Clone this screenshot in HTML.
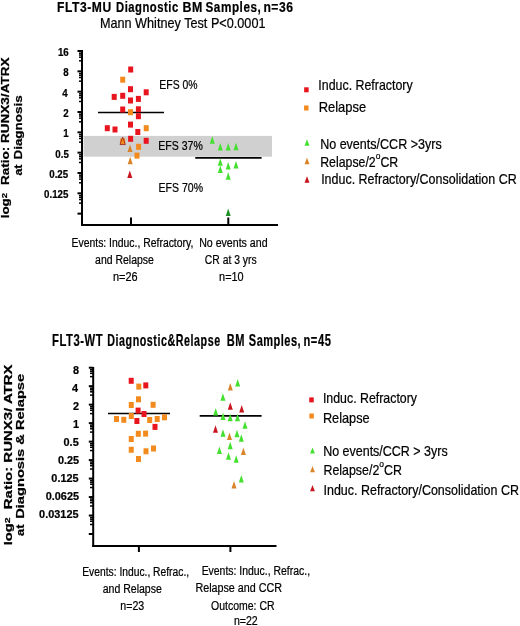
<!DOCTYPE html>
<html><head><meta charset="utf-8"><style>
html,body{margin:0;padding:0;background:#fff;}
svg{display:block;filter:blur(0.3px);}
text{font-family:"Liberation Sans",sans-serif;fill:#000;stroke:#000;stroke-width:0.22px;}

</style></head><body>
<svg width="520" height="626" viewBox="0 0 520 626">
<rect width="520" height="626" fill="#fff"/>
<rect x="83.50" y="135.90" width="188.50" height="20.80" fill="#d0d0d0"/>
<line x1="82.00" y1="50.00" x2="82.00" y2="226.00" stroke="#000" stroke-width="2"/>
<line x1="81.00" y1="225.00" x2="278.00" y2="225.00" stroke="#000" stroke-width="2"/>
<line x1="77.50" y1="51.00" x2="82.00" y2="51.00" stroke="#000" stroke-width="2"/>
<line x1="79.00" y1="53.20" x2="82.00" y2="53.20" stroke="#000" stroke-width="1.5"/>
<line x1="79.00" y1="55.01" x2="82.00" y2="55.01" stroke="#000" stroke-width="1.5"/>
<line x1="79.00" y1="57.20" x2="82.00" y2="57.20" stroke="#000" stroke-width="1.5"/>
<line x1="79.00" y1="60.82" x2="82.00" y2="60.82" stroke="#000" stroke-width="1.5"/>
<line x1="77.50" y1="71.33" x2="82.00" y2="71.33" stroke="#000" stroke-width="2"/>
<line x1="79.00" y1="73.53" x2="82.00" y2="73.53" stroke="#000" stroke-width="1.5"/>
<line x1="79.00" y1="75.34" x2="82.00" y2="75.34" stroke="#000" stroke-width="1.5"/>
<line x1="79.00" y1="77.53" x2="82.00" y2="77.53" stroke="#000" stroke-width="1.5"/>
<line x1="79.00" y1="81.15" x2="82.00" y2="81.15" stroke="#000" stroke-width="1.5"/>
<line x1="77.50" y1="91.66" x2="82.00" y2="91.66" stroke="#000" stroke-width="2"/>
<line x1="79.00" y1="93.86" x2="82.00" y2="93.86" stroke="#000" stroke-width="1.5"/>
<line x1="79.00" y1="95.67" x2="82.00" y2="95.67" stroke="#000" stroke-width="1.5"/>
<line x1="79.00" y1="97.86" x2="82.00" y2="97.86" stroke="#000" stroke-width="1.5"/>
<line x1="79.00" y1="101.48" x2="82.00" y2="101.48" stroke="#000" stroke-width="1.5"/>
<line x1="77.50" y1="111.99" x2="82.00" y2="111.99" stroke="#000" stroke-width="2"/>
<line x1="79.00" y1="114.19" x2="82.00" y2="114.19" stroke="#000" stroke-width="1.5"/>
<line x1="79.00" y1="116.00" x2="82.00" y2="116.00" stroke="#000" stroke-width="1.5"/>
<line x1="79.00" y1="118.19" x2="82.00" y2="118.19" stroke="#000" stroke-width="1.5"/>
<line x1="79.00" y1="121.81" x2="82.00" y2="121.81" stroke="#000" stroke-width="1.5"/>
<line x1="77.50" y1="132.32" x2="82.00" y2="132.32" stroke="#000" stroke-width="2"/>
<line x1="79.00" y1="134.52" x2="82.00" y2="134.52" stroke="#000" stroke-width="1.5"/>
<line x1="79.00" y1="136.33" x2="82.00" y2="136.33" stroke="#000" stroke-width="1.5"/>
<line x1="79.00" y1="138.52" x2="82.00" y2="138.52" stroke="#000" stroke-width="1.5"/>
<line x1="79.00" y1="142.14" x2="82.00" y2="142.14" stroke="#000" stroke-width="1.5"/>
<line x1="77.50" y1="152.65" x2="82.00" y2="152.65" stroke="#000" stroke-width="2"/>
<line x1="79.00" y1="154.85" x2="82.00" y2="154.85" stroke="#000" stroke-width="1.5"/>
<line x1="79.00" y1="156.66" x2="82.00" y2="156.66" stroke="#000" stroke-width="1.5"/>
<line x1="79.00" y1="158.85" x2="82.00" y2="158.85" stroke="#000" stroke-width="1.5"/>
<line x1="79.00" y1="162.47" x2="82.00" y2="162.47" stroke="#000" stroke-width="1.5"/>
<line x1="77.50" y1="172.98" x2="82.00" y2="172.98" stroke="#000" stroke-width="2"/>
<line x1="79.00" y1="175.18" x2="82.00" y2="175.18" stroke="#000" stroke-width="1.5"/>
<line x1="79.00" y1="176.99" x2="82.00" y2="176.99" stroke="#000" stroke-width="1.5"/>
<line x1="79.00" y1="179.18" x2="82.00" y2="179.18" stroke="#000" stroke-width="1.5"/>
<line x1="79.00" y1="182.80" x2="82.00" y2="182.80" stroke="#000" stroke-width="1.5"/>
<line x1="77.50" y1="193.31" x2="82.00" y2="193.31" stroke="#000" stroke-width="2"/>
<line x1="79.00" y1="195.51" x2="82.00" y2="195.51" stroke="#000" stroke-width="1.5"/>
<line x1="79.00" y1="197.32" x2="82.00" y2="197.32" stroke="#000" stroke-width="1.5"/>
<line x1="79.00" y1="199.51" x2="82.00" y2="199.51" stroke="#000" stroke-width="1.5"/>
<line x1="79.00" y1="203.13" x2="82.00" y2="203.13" stroke="#000" stroke-width="1.5"/>
<line x1="77.50" y1="213.64" x2="82.00" y2="213.64" stroke="#000" stroke-width="2"/>
<line x1="131.00" y1="217.50" x2="131.00" y2="225.00" stroke="#000" stroke-width="2"/>
<line x1="228.30" y1="217.50" x2="228.30" y2="225.00" stroke="#000" stroke-width="2"/>
<line x1="98.00" y1="112.50" x2="164.00" y2="112.50" stroke="#000" stroke-width="1.7"/>
<line x1="195.30" y1="157.90" x2="261.60" y2="157.90" stroke="#000" stroke-width="1.7"/>
<rect x="128.20" y="66.50" width="5.00" height="6.00" fill="#e8141e"/>
<rect x="128.00" y="86.20" width="5.00" height="6.00" fill="#e8141e"/>
<rect x="143.70" y="89.30" width="5.00" height="6.00" fill="#e8141e"/>
<rect x="111.70" y="93.90" width="5.00" height="6.00" fill="#e8141e"/>
<rect x="120.20" y="92.80" width="5.00" height="6.00" fill="#e8141e"/>
<rect x="128.00" y="97.50" width="5.00" height="6.00" fill="#e8141e"/>
<rect x="135.90" y="95.90" width="5.00" height="6.00" fill="#e8141e"/>
<rect x="120.20" y="106.50" width="5.00" height="6.00" fill="#e8141e"/>
<rect x="135.90" y="106.30" width="5.00" height="6.00" fill="#e8141e"/>
<rect x="135.90" y="113.20" width="5.00" height="6.00" fill="#e8141e"/>
<rect x="128.00" y="121.60" width="5.00" height="6.00" fill="#e8141e"/>
<rect x="104.80" y="125.20" width="5.00" height="6.00" fill="#e8141e"/>
<rect x="112.50" y="126.50" width="5.00" height="6.00" fill="#e8141e"/>
<rect x="135.30" y="129.00" width="5.00" height="6.00" fill="#e8141e"/>
<rect x="128.10" y="135.80" width="5.00" height="6.00" fill="#e8141e"/>
<rect x="143.70" y="137.80" width="5.00" height="6.00" fill="#e8141e"/>
<rect x="120.20" y="76.70" width="5.00" height="6.00" fill="#f28a1e"/>
<rect x="128.00" y="109.20" width="5.00" height="6.00" fill="#f28a1e"/>
<rect x="143.70" y="125.20" width="5.00" height="6.00" fill="#f28a1e"/>
<rect x="120.20" y="138.40" width="5.00" height="6.00" fill="#f28a1e"/>
<rect x="136.10" y="143.80" width="5.00" height="6.00" fill="#f28a1e"/>
<rect x="134.50" y="152.60" width="5.00" height="6.00" fill="#f28a1e"/>
<polygon points="122.70,137.05 125.40,144.55 120.00,144.55" fill="none" stroke="#a01a10" stroke-width="0.8"/>
<polygon points="130.00,144.55 132.50,152.05 127.50,152.05" fill="#d9842a"/>
<polygon points="130.20,156.85 132.70,164.35 127.70,164.35" fill="#d9842a"/>
<polygon points="129.80,170.55 132.30,178.05 127.30,178.05" fill="#c8141e"/>
<polygon points="212.30,136.35 214.80,143.85 209.80,143.85" fill="#44e030"/>
<polygon points="220.30,143.05 222.80,150.55 217.80,150.55" fill="#44e030"/>
<polygon points="228.20,143.05 230.70,150.55 225.70,150.55" fill="#44e030"/>
<polygon points="236.00,142.75 238.50,150.25 233.50,150.25" fill="#44e030"/>
<polygon points="220.30,158.15 222.80,165.65 217.80,165.65" fill="#44e030"/>
<polygon points="228.20,162.05 230.70,169.55 225.70,169.55" fill="#44e030"/>
<polygon points="236.00,160.95 238.50,168.45 233.50,168.45" fill="#44e030"/>
<polygon points="220.30,165.55 222.80,173.05 217.80,173.05" fill="#44e030"/>
<polygon points="228.20,172.35 230.70,179.85 225.70,179.85" fill="#44e030"/>
<polygon points="228.20,208.45 230.70,215.95 225.70,215.95" fill="#1f8f2a"/>
<rect x="304.15" y="87.30" width="4.50" height="5.00" fill="#e8141e"/>
<rect x="304.05" y="105.50" width="4.50" height="5.00" fill="#f28a1e"/>
<polygon points="307.00,139.25 309.50,145.75 304.50,145.75" fill="#44e030"/>
<polygon points="307.00,157.85 309.50,164.35 304.50,164.35" fill="#d9842a"/>
<polygon points="307.00,176.35 309.50,182.85 304.50,182.85" fill="#c8141e"/>
<line x1="93.20" y1="367.00" x2="93.20" y2="547.00" stroke="#000" stroke-width="2"/>
<line x1="92.20" y1="546.00" x2="276.50" y2="546.00" stroke="#000" stroke-width="2"/>
<line x1="88.80" y1="367.70" x2="93.20" y2="367.70" stroke="#000" stroke-width="2"/>
<line x1="90.00" y1="369.70" x2="93.20" y2="369.70" stroke="#000" stroke-width="1.5"/>
<line x1="90.00" y1="371.34" x2="93.20" y2="371.34" stroke="#000" stroke-width="1.5"/>
<line x1="90.00" y1="373.34" x2="93.20" y2="373.34" stroke="#000" stroke-width="1.5"/>
<line x1="90.00" y1="376.63" x2="93.20" y2="376.63" stroke="#000" stroke-width="1.5"/>
<line x1="88.80" y1="386.18" x2="93.20" y2="386.18" stroke="#000" stroke-width="2"/>
<line x1="90.00" y1="388.18" x2="93.20" y2="388.18" stroke="#000" stroke-width="1.5"/>
<line x1="90.00" y1="389.82" x2="93.20" y2="389.82" stroke="#000" stroke-width="1.5"/>
<line x1="90.00" y1="391.82" x2="93.20" y2="391.82" stroke="#000" stroke-width="1.5"/>
<line x1="90.00" y1="395.11" x2="93.20" y2="395.11" stroke="#000" stroke-width="1.5"/>
<line x1="88.80" y1="404.66" x2="93.20" y2="404.66" stroke="#000" stroke-width="2"/>
<line x1="90.00" y1="406.66" x2="93.20" y2="406.66" stroke="#000" stroke-width="1.5"/>
<line x1="90.00" y1="408.30" x2="93.20" y2="408.30" stroke="#000" stroke-width="1.5"/>
<line x1="90.00" y1="410.30" x2="93.20" y2="410.30" stroke="#000" stroke-width="1.5"/>
<line x1="90.00" y1="413.59" x2="93.20" y2="413.59" stroke="#000" stroke-width="1.5"/>
<line x1="88.80" y1="423.14" x2="93.20" y2="423.14" stroke="#000" stroke-width="2"/>
<line x1="90.00" y1="425.14" x2="93.20" y2="425.14" stroke="#000" stroke-width="1.5"/>
<line x1="90.00" y1="426.78" x2="93.20" y2="426.78" stroke="#000" stroke-width="1.5"/>
<line x1="90.00" y1="428.78" x2="93.20" y2="428.78" stroke="#000" stroke-width="1.5"/>
<line x1="90.00" y1="432.07" x2="93.20" y2="432.07" stroke="#000" stroke-width="1.5"/>
<line x1="88.80" y1="441.62" x2="93.20" y2="441.62" stroke="#000" stroke-width="2"/>
<line x1="90.00" y1="443.62" x2="93.20" y2="443.62" stroke="#000" stroke-width="1.5"/>
<line x1="90.00" y1="445.26" x2="93.20" y2="445.26" stroke="#000" stroke-width="1.5"/>
<line x1="90.00" y1="447.26" x2="93.20" y2="447.26" stroke="#000" stroke-width="1.5"/>
<line x1="90.00" y1="450.55" x2="93.20" y2="450.55" stroke="#000" stroke-width="1.5"/>
<line x1="88.80" y1="460.10" x2="93.20" y2="460.10" stroke="#000" stroke-width="2"/>
<line x1="90.00" y1="462.10" x2="93.20" y2="462.10" stroke="#000" stroke-width="1.5"/>
<line x1="90.00" y1="463.74" x2="93.20" y2="463.74" stroke="#000" stroke-width="1.5"/>
<line x1="90.00" y1="465.74" x2="93.20" y2="465.74" stroke="#000" stroke-width="1.5"/>
<line x1="90.00" y1="469.03" x2="93.20" y2="469.03" stroke="#000" stroke-width="1.5"/>
<line x1="88.80" y1="478.58" x2="93.20" y2="478.58" stroke="#000" stroke-width="2"/>
<line x1="90.00" y1="480.58" x2="93.20" y2="480.58" stroke="#000" stroke-width="1.5"/>
<line x1="90.00" y1="482.22" x2="93.20" y2="482.22" stroke="#000" stroke-width="1.5"/>
<line x1="90.00" y1="484.22" x2="93.20" y2="484.22" stroke="#000" stroke-width="1.5"/>
<line x1="90.00" y1="487.51" x2="93.20" y2="487.51" stroke="#000" stroke-width="1.5"/>
<line x1="88.80" y1="497.06" x2="93.20" y2="497.06" stroke="#000" stroke-width="2"/>
<line x1="90.00" y1="499.06" x2="93.20" y2="499.06" stroke="#000" stroke-width="1.5"/>
<line x1="90.00" y1="500.70" x2="93.20" y2="500.70" stroke="#000" stroke-width="1.5"/>
<line x1="90.00" y1="502.70" x2="93.20" y2="502.70" stroke="#000" stroke-width="1.5"/>
<line x1="90.00" y1="505.99" x2="93.20" y2="505.99" stroke="#000" stroke-width="1.5"/>
<line x1="88.80" y1="515.54" x2="93.20" y2="515.54" stroke="#000" stroke-width="2"/>
<line x1="90.00" y1="517.54" x2="93.20" y2="517.54" stroke="#000" stroke-width="1.5"/>
<line x1="90.00" y1="519.18" x2="93.20" y2="519.18" stroke="#000" stroke-width="1.5"/>
<line x1="90.00" y1="521.18" x2="93.20" y2="521.18" stroke="#000" stroke-width="1.5"/>
<line x1="90.00" y1="524.47" x2="93.20" y2="524.47" stroke="#000" stroke-width="1.5"/>
<line x1="88.80" y1="534.02" x2="93.20" y2="534.02" stroke="#000" stroke-width="2"/>
<line x1="138.90" y1="546.00" x2="138.90" y2="552.00" stroke="#000" stroke-width="2"/>
<line x1="230.40" y1="546.00" x2="230.40" y2="552.00" stroke="#000" stroke-width="2"/>
<line x1="108.00" y1="413.50" x2="170.00" y2="413.50" stroke="#000" stroke-width="1.7"/>
<line x1="199.70" y1="415.80" x2="261.60" y2="415.80" stroke="#000" stroke-width="1.7"/>
<rect x="136.30" y="383.60" width="5.00" height="6.00" fill="#f28a1e"/>
<rect x="136.00" y="396.30" width="5.00" height="6.00" fill="#f28a1e"/>
<rect x="128.75" y="402.00" width="5.00" height="6.00" fill="#f28a1e"/>
<rect x="150.60" y="401.80" width="5.00" height="6.00" fill="#f28a1e"/>
<rect x="128.80" y="413.00" width="5.00" height="6.00" fill="#f28a1e"/>
<rect x="114.00" y="416.00" width="5.00" height="6.00" fill="#f28a1e"/>
<rect x="121.30" y="416.80" width="5.00" height="6.00" fill="#f28a1e"/>
<rect x="147.20" y="417.00" width="5.00" height="6.00" fill="#f28a1e"/>
<rect x="154.70" y="416.00" width="5.00" height="6.00" fill="#f28a1e"/>
<rect x="162.00" y="414.30" width="5.00" height="6.00" fill="#f28a1e"/>
<rect x="135.80" y="430.80" width="5.00" height="6.00" fill="#f28a1e"/>
<rect x="143.10" y="430.60" width="5.00" height="6.00" fill="#f28a1e"/>
<rect x="128.75" y="436.00" width="5.00" height="6.00" fill="#f28a1e"/>
<rect x="128.75" y="446.75" width="5.00" height="6.00" fill="#f28a1e"/>
<rect x="143.50" y="448.25" width="5.00" height="6.00" fill="#f28a1e"/>
<rect x="151.00" y="445.50" width="5.00" height="6.00" fill="#f28a1e"/>
<rect x="136.00" y="456.00" width="5.00" height="6.00" fill="#f28a1e"/>
<rect x="128.70" y="377.80" width="5.00" height="6.00" fill="#e8141e"/>
<rect x="143.30" y="382.40" width="5.00" height="6.00" fill="#e8141e"/>
<rect x="135.60" y="407.60" width="5.00" height="6.00" fill="#e8141e"/>
<rect x="141.50" y="411.00" width="5.00" height="6.00" fill="#e8141e"/>
<rect x="134.40" y="418.00" width="5.00" height="6.00" fill="#e8141e"/>
<rect x="152.50" y="423.90" width="5.00" height="6.00" fill="#e8141e"/>
<polygon points="237.70,379.05 240.20,386.55 235.20,386.55" fill="#44e030"/>
<polygon points="222.90,393.15 225.40,400.65 220.40,400.65" fill="#44e030"/>
<polygon points="215.70,408.05 218.20,415.55 213.20,415.55" fill="#44e030"/>
<polygon points="223.00,412.45 225.50,419.95 220.50,419.95" fill="#44e030"/>
<polygon points="230.20,413.75 232.70,421.25 227.70,421.25" fill="#44e030"/>
<polygon points="237.50,413.65 240.00,421.15 235.00,421.15" fill="#44e030"/>
<polygon points="245.00,421.35 247.50,428.85 242.50,428.85" fill="#44e030"/>
<polygon points="223.00,429.25 225.50,436.75 220.50,436.75" fill="#44e030"/>
<polygon points="237.00,429.65 239.50,437.15 234.50,437.15" fill="#44e030"/>
<polygon points="241.30,434.25 243.80,441.75 238.80,441.75" fill="#44e030"/>
<polygon points="230.20,441.75 232.70,449.25 227.70,449.25" fill="#44e030"/>
<polygon points="219.40,446.55 221.90,454.05 216.90,454.05" fill="#44e030"/>
<polygon points="228.50,452.25 231.00,459.75 226.00,459.75" fill="#44e030"/>
<polygon points="236.20,455.15 238.70,462.65 233.70,462.65" fill="#44e030"/>
<polygon points="241.30,474.95 243.80,482.45 238.80,482.45" fill="#44e030"/>
<polygon points="230.30,383.05 232.80,390.55 227.80,390.55" fill="#d9842a"/>
<polygon points="229.50,432.55 232.00,440.05 227.00,440.05" fill="#d9842a"/>
<polygon points="243.40,447.55 245.90,455.05 240.90,455.05" fill="#d9842a"/>
<polygon points="234.00,480.95 236.50,488.45 231.50,488.45" fill="#d9842a"/>
<polygon points="230.30,402.25 232.80,409.75 227.80,409.75" fill="#c8141e"/>
<polygon points="241.70,405.05 244.20,412.55 239.20,412.55" fill="#c8141e"/>
<polygon points="215.50,425.35 218.00,432.85 213.00,432.85" fill="#c8141e"/>
<rect x="309.25" y="397.40" width="4.50" height="5.00" fill="#e8141e"/>
<rect x="309.35" y="413.50" width="4.50" height="5.00" fill="#f28a1e"/>
<polygon points="312.50,447.40 314.90,453.60 310.10,453.60" fill="#44e030"/>
<polygon points="312.50,466.00 314.90,472.20 310.10,472.20" fill="#d9842a"/>
<polygon points="312.50,485.10 314.90,491.30 310.10,491.30" fill="#c8141e"/>
<text x="56.99" y="12.10" font-size="15.0" font-weight="bold" letter-spacing="0.7" class="t" textLength="54.77" lengthAdjust="spacingAndGlyphs">FLT3-MU</text>
<text x="116.05" y="12.10" font-size="15.0" font-weight="bold" letter-spacing="0.7" class="t" textLength="62.66" lengthAdjust="spacingAndGlyphs">Diagnostic</text>
<text x="182.57" y="12.10" font-size="15.0" font-weight="bold" letter-spacing="0.7" class="t" textLength="20.46" lengthAdjust="spacingAndGlyphs">BM</text>
<text x="205.50" y="12.10" font-size="15.0" font-weight="bold" letter-spacing="0.7" class="t" textLength="55.85" lengthAdjust="spacingAndGlyphs">Samples,</text>
<text x="263.39" y="12.10" font-size="15.0" font-weight="bold" letter-spacing="0.7" class="t" textLength="30.26" lengthAdjust="spacingAndGlyphs">n=36</text>
<text x="99.93" y="27.60" font-size="14.5" font-weight="normal" textLength="165.56" lengthAdjust="spacingAndGlyphs">Mann Whitney Test P&lt;0.0001</text>
<text x="159.33" y="88.90" font-size="12" font-weight="normal" textLength="38.18" lengthAdjust="spacingAndGlyphs">EFS 0%</text>
<text x="158.32" y="149.90" font-size="12" font-weight="normal" textLength="44.52" lengthAdjust="spacingAndGlyphs">EFS 37%</text>
<text x="158.62" y="192.00" font-size="12" font-weight="normal" textLength="44.42" lengthAdjust="spacingAndGlyphs">EFS 70%</text>
<text x="318.34" y="90.30" font-size="14.4" font-weight="normal" textLength="94.30" lengthAdjust="spacingAndGlyphs">Induc. Refractory</text>
<text x="318.70" y="111.80" font-size="14.4" font-weight="normal" textLength="47.43" lengthAdjust="spacingAndGlyphs">Relapse</text>
<text x="320.13" y="149.10" font-size="14.4" font-weight="normal" textLength="121.56" lengthAdjust="spacingAndGlyphs">No events/CCR &gt;3yrs</text>
<text x="320.14" y="167.00" font-size="14.4" font-weight="normal" textLength="78.11" lengthAdjust="spacingAndGlyphs">Relapse/2<tspan font-size="9.8" dy="-8.1">o</tspan><tspan dy="8.1">CR</tspan></text>
<text x="321.13" y="184.10" font-size="14.4" font-weight="normal" textLength="195.55" lengthAdjust="spacingAndGlyphs">Induc. Refractory/Consolidation CR</text>
<text x="71.55" y="246.90" font-size="12.3" font-weight="normal" textLength="121.78" lengthAdjust="spacingAndGlyphs">Events: Induc., Refractory,</text>
<text x="95.10" y="264.40" font-size="12.3" font-weight="normal" textLength="58.75" lengthAdjust="spacingAndGlyphs">and Relapse</text>
<text x="113.01" y="281.00" font-size="12.3" font-weight="normal" textLength="24.61" lengthAdjust="spacingAndGlyphs">n=26</text>
<text x="199.14" y="246.90" font-size="12.3" font-weight="normal" textLength="68.43" lengthAdjust="spacingAndGlyphs">No events and</text>
<text x="204.80" y="264.40" font-size="12.3" font-weight="normal" textLength="51.82" lengthAdjust="spacingAndGlyphs">CR at 3 yrs</text>
<text x="219.12" y="281.00" font-size="12.3" font-weight="normal" textLength="24.51" lengthAdjust="spacingAndGlyphs">n=10</text>
<text x="57.96" y="56.10" font-size="11.2" font-weight="bold" textLength="10.83" lengthAdjust="spacingAndGlyphs">16</text>
<text x="63.18" y="76.43" font-size="11.2" font-weight="bold" textLength="5.42" lengthAdjust="spacingAndGlyphs">8</text>
<text x="62.31" y="96.76" font-size="11.2" font-weight="bold" textLength="5.42" lengthAdjust="spacingAndGlyphs">4</text>
<text x="63.18" y="117.09" font-size="11.2" font-weight="bold" textLength="5.42" lengthAdjust="spacingAndGlyphs">2</text>
<text x="63.18" y="137.42" font-size="11.2" font-weight="bold" textLength="5.42" lengthAdjust="spacingAndGlyphs">1</text>
<text x="55.35" y="157.75" font-size="11.2" font-weight="bold" textLength="13.54" lengthAdjust="spacingAndGlyphs">0.5</text>
<text x="49.26" y="178.08" font-size="11.2" font-weight="bold" textLength="18.95" lengthAdjust="spacingAndGlyphs">0.25</text>
<text x="44.04" y="198.41" font-size="11.2" font-weight="bold" textLength="24.36" lengthAdjust="spacingAndGlyphs">0.125</text>
<text x="72.96" y="374.00" font-size="11.6" font-weight="bold" textLength="6.07" lengthAdjust="spacingAndGlyphs">8</text>
<text x="72.02" y="391.99" font-size="11.6" font-weight="bold" textLength="6.07" lengthAdjust="spacingAndGlyphs">4</text>
<text x="72.96" y="409.98" font-size="11.6" font-weight="bold" textLength="6.07" lengthAdjust="spacingAndGlyphs">2</text>
<text x="72.96" y="427.97" font-size="11.6" font-weight="bold" textLength="6.07" lengthAdjust="spacingAndGlyphs">1</text>
<text x="63.56" y="445.96" font-size="11.6" font-weight="bold" textLength="15.16" lengthAdjust="spacingAndGlyphs">0.5</text>
<text x="57.92" y="463.95" font-size="11.6" font-weight="bold" textLength="21.22" lengthAdjust="spacingAndGlyphs">0.25</text>
<text x="51.34" y="481.94" font-size="11.6" font-weight="bold" textLength="27.27" lengthAdjust="spacingAndGlyphs">0.125</text>
<text x="45.70" y="499.93" font-size="11.6" font-weight="bold" textLength="33.34" lengthAdjust="spacingAndGlyphs">0.0625</text>
<text x="39.12" y="517.92" font-size="11.6" font-weight="bold" textLength="39.41" lengthAdjust="spacingAndGlyphs">0.03125</text>
<text x="51.99" y="346.20" font-size="15.9" font-weight="bold" letter-spacing="0.8" class="t" textLength="51.27" lengthAdjust="spacingAndGlyphs">FLT3-WT</text>
<text x="107.22" y="346.20" font-size="15.9" font-weight="bold" letter-spacing="0.8" class="t" textLength="113.49" lengthAdjust="spacingAndGlyphs">Diagnostic&amp;Relapse</text>
<text x="226.80" y="346.20" font-size="15.9" font-weight="bold" letter-spacing="0.7" class="t" textLength="18.18" lengthAdjust="spacingAndGlyphs">BM</text>
<text x="248.80" y="346.20" font-size="15.9" font-weight="bold" letter-spacing="0.7" class="t" textLength="52.37" lengthAdjust="spacingAndGlyphs">Samples,</text>
<text x="303.50" y="346.20" font-size="15.9" font-weight="bold" letter-spacing="0.8" class="t" textLength="27.91" lengthAdjust="spacingAndGlyphs">n=45</text>
<text x="322.95" y="403.40" font-size="14.5" font-weight="normal" textLength="94.06" lengthAdjust="spacingAndGlyphs">Induc. Refractory</text>
<text x="322.92" y="423.10" font-size="14.5" font-weight="normal" textLength="46.76" lengthAdjust="spacingAndGlyphs">Relapse</text>
<text x="323.14" y="455.70" font-size="14.5" font-weight="normal" textLength="124.57" lengthAdjust="spacingAndGlyphs">No events/CCR &gt; 3yrs</text>
<text x="323.55" y="474.90" font-size="14.5" font-weight="normal" textLength="78.29" lengthAdjust="spacingAndGlyphs">Relapse/2<tspan font-size="9.9" dy="-8.1">o</tspan><tspan dy="8.1">CR</tspan></text>
<text x="323.54" y="494.70" font-size="14.5" font-weight="normal" textLength="195.40" lengthAdjust="spacingAndGlyphs">Induc. Refractory/Consolidation CR</text>
<text x="82.24" y="575.60" font-size="12" font-weight="normal" textLength="106.89" lengthAdjust="spacingAndGlyphs">Events: Induc., Refrac.,</text>
<text x="102.70" y="593.40" font-size="12" font-weight="normal" textLength="59.14" lengthAdjust="spacingAndGlyphs">and Relapse</text>
<text x="120.32" y="609.50" font-size="12" font-weight="normal" textLength="23.91" lengthAdjust="spacingAndGlyphs">n=23</text>
<text x="201.63" y="574.70" font-size="12" font-weight="normal" textLength="108.41" lengthAdjust="spacingAndGlyphs">Events: Induc., Refrac.,</text>
<text x="195.40" y="592.20" font-size="12" font-weight="normal" textLength="86.64" lengthAdjust="spacingAndGlyphs">Relapse and CCR</text>
<text x="211.10" y="609.70" font-size="12" font-weight="normal" textLength="63.40" lengthAdjust="spacingAndGlyphs">Outcome: CR</text>
<text x="233.92" y="624.50" font-size="12" font-weight="normal" textLength="23.81" lengthAdjust="spacingAndGlyphs">n=22</text>
<text transform="translate(8.70,218.37) scale(1.000,1) rotate(-90)" font-size="10.6" font-weight="bold" textLength="25.49" lengthAdjust="spacingAndGlyphs">log<tspan font-size="7.4" dy="-2.2">2</tspan></text>
<text transform="translate(8.70,185.00) scale(1.000,1) rotate(-90)" font-size="10.6" font-weight="bold" textLength="127.42" lengthAdjust="spacingAndGlyphs">Ratio: RUNX3/ATRX</text>
<text transform="translate(21.70,175.60) scale(1.000,1) rotate(-90)" font-size="10.6" font-weight="bold" textLength="10.93" lengthAdjust="spacingAndGlyphs">at</text>
<text transform="translate(21.70,159.50) scale(1.000,1) rotate(-90)" font-size="10.6" font-weight="bold" textLength="64.11" lengthAdjust="spacingAndGlyphs">Diagnosis</text>
<text transform="translate(12.00,545.37) scale(1.000,1) rotate(-90)" font-size="10.8" font-weight="bold" textLength="27.97" lengthAdjust="spacingAndGlyphs">log<tspan font-size="7.6" dy="-2.3">2</tspan></text>
<text transform="translate(12.00,509.20) scale(1.000,1) rotate(-90)" font-size="10.8" font-weight="bold" textLength="144.72" lengthAdjust="spacingAndGlyphs">Ratio: RUNX3/ ATRX</text>
<text transform="translate(23.80,535.90) scale(1.000,1) rotate(-90)" font-size="10.8" font-weight="bold" textLength="11.44" lengthAdjust="spacingAndGlyphs">at</text>
<text transform="translate(23.80,518.80) scale(1.000,1) rotate(-90)" font-size="10.8" font-weight="bold" textLength="144.95" lengthAdjust="spacingAndGlyphs">Diagnosis &amp; Relapse</text>
</svg>
</body></html>
